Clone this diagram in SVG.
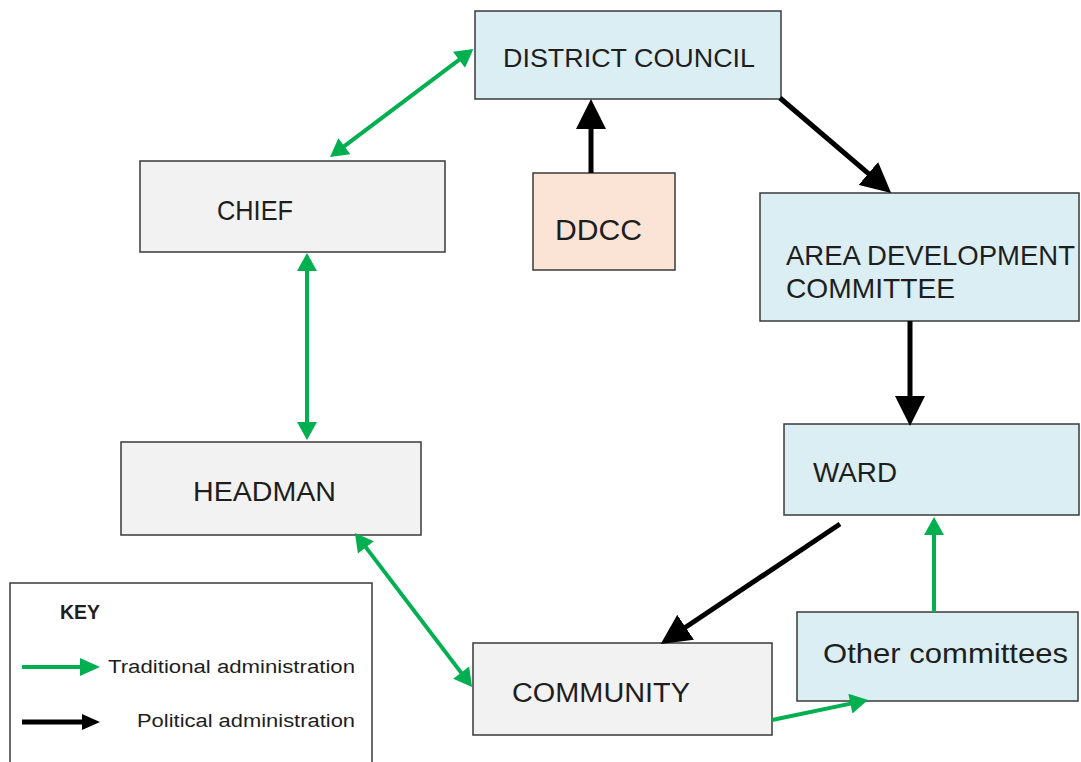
<svg xmlns="http://www.w3.org/2000/svg" width="1081" height="762" viewBox="0 0 1081 762">
<defs>
<style>
.box{stroke:#3a3a3a;stroke-width:1.5}
.blue{fill:#dbeef4}
.gray{fill:#f2f2f2}
.peach{fill:#fbe4d5}
.lbl{font-family:"Liberation Sans",Arial,sans-serif;fill:#1e1e1e}
.g{stroke:#00b050;stroke-width:4;fill:none}
.k{stroke:#000;stroke-width:5;fill:none}
</style>
<marker id="gh" markerUnits="userSpaceOnUse" markerWidth="20" markerHeight="20" refX="10" refY="10" orient="auto-start-reverse" viewBox="0 0 18 20">
<path d="M0,0 L18,10 L0,20 z" fill="#00b050"/>
</marker>
<marker id="kh" markerUnits="userSpaceOnUse" markerWidth="30" markerHeight="30" refX="14" refY="15" orient="auto" viewBox="0 0 30 30">
<path d="M0,0 L30,15 L0,30 z" fill="#000"/>
</marker>
<marker id="gk" markerUnits="userSpaceOnUse" markerWidth="20" markerHeight="18" refX="10" refY="9" orient="auto" viewBox="0 0 20 18">
<path d="M0,0 L20,9 L0,18 z" fill="#00b050"/>
</marker>
<marker id="kk" markerUnits="userSpaceOnUse" markerWidth="18" markerHeight="16" refX="9" refY="8" orient="auto" viewBox="0 0 18 16">
<path d="M0,0 L18,8 L0,16 z" fill="#000"/>
</marker>
</defs>
<rect width="1081" height="762" fill="#fff"/>

<g id="district-council">
<rect class="box blue" x="475" y="11" width="306" height="88"/>
<text class="lbl" x="503" y="67" font-size="26" textLength="252" lengthAdjust="spacingAndGlyphs">DISTRICT COUNCIL</text>
</g>
<g id="ddcc">
<rect class="box peach" x="533" y="173" width="142" height="97"/>
<text class="lbl" x="555" y="240" font-size="30" textLength="87" lengthAdjust="spacingAndGlyphs">DDCC</text>
</g>
<g id="chief">
<rect class="box gray" x="140" y="161" width="305" height="91"/>
<text class="lbl" x="217" y="220" font-size="28" textLength="76" lengthAdjust="spacingAndGlyphs">CHIEF</text>
</g>
<g id="area-development-committee">
<rect class="box blue" x="760" y="193" width="319" height="128"/>
<text class="lbl" x="786" y="265" font-size="28" textLength="289" lengthAdjust="spacingAndGlyphs">AREA DEVELOPMENT</text>
<text class="lbl" x="786" y="298" font-size="28" textLength="169" lengthAdjust="spacingAndGlyphs">COMMITTEE</text>
</g>
<g id="headman">
<rect class="box gray" x="121" y="442" width="300" height="93"/>
<text class="lbl" x="193" y="501" font-size="28" textLength="143" lengthAdjust="spacingAndGlyphs">HEADMAN</text>
</g>
<g id="ward">
<rect class="box blue" x="784" y="424" width="295" height="91"/>
<text class="lbl" x="813" y="482" font-size="27" textLength="84" lengthAdjust="spacingAndGlyphs">WARD</text>
</g>
<g id="community">
<rect class="box gray" x="473" y="643" width="299" height="92"/>
<text class="lbl" x="512" y="702" font-size="27" textLength="178" lengthAdjust="spacingAndGlyphs">COMMUNITY</text>
</g>
<g id="other-committees">
<rect class="box blue" x="797" y="612" width="281" height="89"/>
<text class="lbl" x="823" y="663" font-size="28" textLength="245" lengthAdjust="spacingAndGlyphs">Other committees</text>
</g>

<g id="connectors">
<line class="g" x1="336.4" y1="152.2" x2="467" y2="53.8" marker-start="url(#gh)" marker-end="url(#gh)"/>
<line class="g" x1="307" y1="261" x2="307" y2="432" marker-start="url(#gh)" marker-end="url(#gh)"/>
<line class="g" x1="359.8" y1="539.4" x2="467.2" y2="680.6" marker-start="url(#gh)" marker-end="url(#gh)"/>
<line class="g" x1="772" y1="720" x2="860.2" y2="701.6" marker-end="url(#gh)"/>
<line class="g" x1="934" y1="612" x2="934" y2="525" marker-end="url(#gh)"/>
<line class="k" x1="591" y1="173" x2="591" y2="115" marker-end="url(#kh)"/>
<line class="k" x1="780" y1="98" x2="879" y2="182.6" marker-end="url(#kh)"/>
<line class="k" x1="910" y1="321" x2="910" y2="410" marker-end="url(#kh)"/>
<line class="k" x1="840" y1="524" x2="674" y2="635" marker-end="url(#kh)"/>
</g>

<g id="key">
<rect x="10" y="583" width="362" height="190" fill="#fff" stroke="#3a3a3a" stroke-width="1.5"/>
<text class="lbl" x="60" y="619" font-size="21" font-weight="bold" textLength="40" lengthAdjust="spacingAndGlyphs">KEY</text>
<line class="g" x1="22" y1="667" x2="90" y2="667" marker-end="url(#gk)"/>
<text class="lbl" x="108" y="673" font-size="18" textLength="247" lengthAdjust="spacingAndGlyphs">Traditional administration</text>
<line class="k" x1="22" y1="722" x2="91" y2="722" marker-end="url(#kk)"/>
<text class="lbl" x="137" y="727" font-size="18" textLength="218" lengthAdjust="spacingAndGlyphs">Political administration</text>
</g>
</svg>
